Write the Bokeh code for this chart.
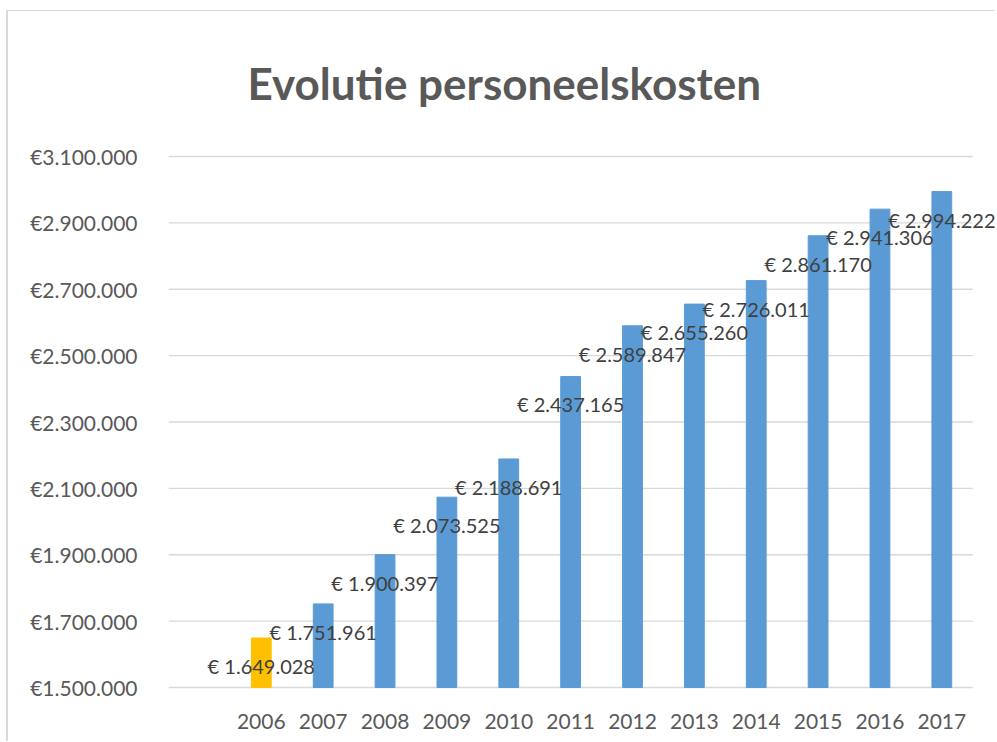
from bokeh.plotting import figure
from bokeh.models import ColumnDataSource, LabelSet, FixedTicker, Range1d
from bokeh.core.properties import value
from bokeh.embed import file_html
from bokeh.resources import INLINE

title_text = "Evolutie personeelskosten"
years = ["2006", "2007", "2008", "2009", "2010", "2011", "2012", "2013", "2014", "2015", "2016", "2017"]
values = [1649028, 1751961, 1900397, 2073525, 2188691, 2437165, 2589847, 2655260, 2726011, 2861170, 2941306, 2994222]
value_labels = ["€ 1.649.028", "€ 1.751.961", "€ 1.900.397", "€ 2.073.525", "€ 2.188.691", "€ 2.437.165",
                "€ 2.589.847", "€ 2.655.260", "€ 2.726.011", "€ 2.861.170", "€ 2.941.306", "€ 2.994.222"]
bar_colors = ["#FFC000"] + ["#5B9BD5"] * 11
y_ticks = [1500000, 1700000, 1900000, 2100000, 2300000, 2500000, 2700000, 2900000, 3100000]
y_tick_labels = ["€1.500.000", "€1.700.000", "€1.900.000", "€2.100.000", "€2.300.000",
                 "€2.500.000", "€2.700.000", "€2.900.000", "€3.100.000"]

idx = list(range(len(years)))
src = ColumnDataSource(dict(x=idx, top=values, color=bar_colors, label=value_labels))
grid_src = ColumnDataSource(dict(y=y_ticks, x0=[-1.5] * len(y_ticks), x1=[11.5] * len(y_ticks)))

p = figure(width=989, height=731, output_backend="svg", toolbar_location=None,
           x_range=Range1d(-1.5, 11.9), y_range=Range1d(1485000, 3115000),
           min_border_left=160, min_border_right=0, min_border_top=140, min_border_bottom=50)

p.title.text = title_text
p.title.text_font = "Lato"
p.title.text_font_style = "bold"
p.title.text_font_size = "44px"
p.title.text_color = "#595959"
p.title.align = "left"
p.title.vertical_align = "top"
p.title.offset = 79
p.title.standoff = 82

p.segment(x0="x0", x1="x1", y0="y", y1="y", source=grid_src, line_color="#D9D9D9", line_width=1.3)
p.vbar(x="x", top="top", bottom=1500000, width=0.32, color="color", source=src)

labels = LabelSet(x="x", y="top", text="label", source=src, y_offset=-28,
                  text_align="center", text_baseline="middle",
                  text_font=value("Lato"), text_font_size="20px", text_color="#404040")
p.add_layout(labels)

p.outline_line_color = None
p.xgrid.grid_line_color = None
p.ygrid.grid_line_color = None

p.yaxis.ticker = FixedTicker(ticks=y_ticks)
p.yaxis.major_label_overrides = {t: l for t, l in zip(y_ticks, y_tick_labels)}
p.xaxis.ticker = FixedTicker(ticks=idx)
p.xaxis.major_label_overrides = {i: y for i, y in zip(idx, years)}

for ax in (p.xaxis, p.yaxis):
    ax.axis_line_color = None
    ax.major_tick_line_color = None
    ax.minor_tick_line_color = None
    ax.major_label_text_font = "Lato"
    ax.major_label_text_font_size = "21px"
    ax.major_label_text_color = "#595959"
p.yaxis.major_label_standoff = 25
p.xaxis.major_label_standoff = 15

p.styles = {"margin-left": "6px", "margin-top": "10px",
            "border-left": "2px solid #D9D9D9", "border-top": "1px solid #D9D9D9"}

open("out.html", "w").write(file_html(p, INLINE))
